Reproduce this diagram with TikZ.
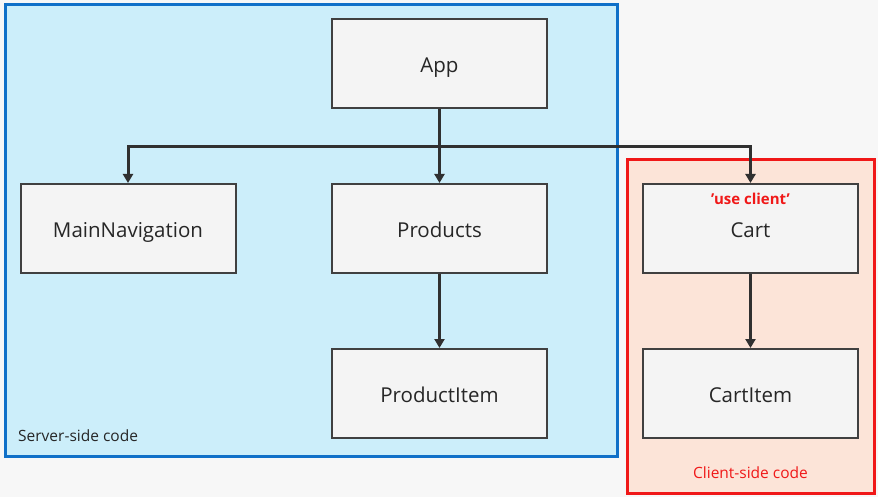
\documentclass[tikz,border=0pt]{standalone}
\usepackage{fontspec}
\setmainfont{Open Sans}
\usetikzlibrary{arrows.meta}
\definecolor{bgc}{HTML}{F7F7F7}
\definecolor{serverfill}{HTML}{CCEEFA}
\definecolor{serverline}{HTML}{1070C8}
\definecolor{clientfill}{HTML}{FCE4D8}
\definecolor{clientline}{HTML}{F01818}
\definecolor{boxfill}{HTML}{F4F4F4}
\definecolor{boxline}{HTML}{404040}
\definecolor{wire}{HTML}{303030}
\definecolor{txt}{HTML}{262626}
\begin{document}
\begin{tikzpicture}[x=1pt,y=-1pt,
  comp/.style={draw=boxline,fill=boxfill,line width=2pt,minimum width=215pt,minimum height=89pt,inner sep=0pt,font=\fontsize{20.5}{22}\selectfont,text=txt,text height=18pt,text depth=0.4pt},
  wirel/.style={draw=wire,line width=3pt,-{Triangle[length=9pt,width=10pt]}},
  zone/.style={line width=3pt}]
\useasboundingbox[fill=bgc] (0,0) rectangle (878,497);
\draw[zone,draw=serverline,fill=serverfill] (5,5) rectangle (617,456);
\draw[zone,draw=clientline,fill=clientfill] (627,160) rectangle (874,493);
\node[comp] (app) at (439.5,64) {App};
\node[comp] (mainnav) at (128,228.5) {MainNavigation};
\node[comp] (products) at (439.5,228.5) {Products};
\node[comp] (cart) at (750.5,228.5) {Cart};
\node[comp] (productitem) at (439.5,393.5) {ProductItem};
\node[comp] (cartitem) at (750.5,393.5) {CartItem};
\node[font=\bfseries\fontsize{15}{17}\selectfont,text=clientline] (useclient) at (750.5,199) {'use client'};
\node[font=\fontsize{15.5}{17}\selectfont,text=txt,anchor=west,inner sep=0pt] (serverlabel) at (18,436) {Server-side code};
\node[font=\fontsize{15.5}{17}\selectfont,text=clientline] (clientlabel) at (750.5,473) {Client-side code};
\coordinate (split) at (439.5,147);
\draw[wirel] (app.south) -- (products.north);
\draw[wirel] (split) -| (mainnav.north);
\draw[wirel] (split) -| (cart.north);
\draw[wirel] (products.south) -- (productitem.north);
\draw[wirel] (cart.south) -- (cartitem.north);
\end{tikzpicture}
\end{document}
